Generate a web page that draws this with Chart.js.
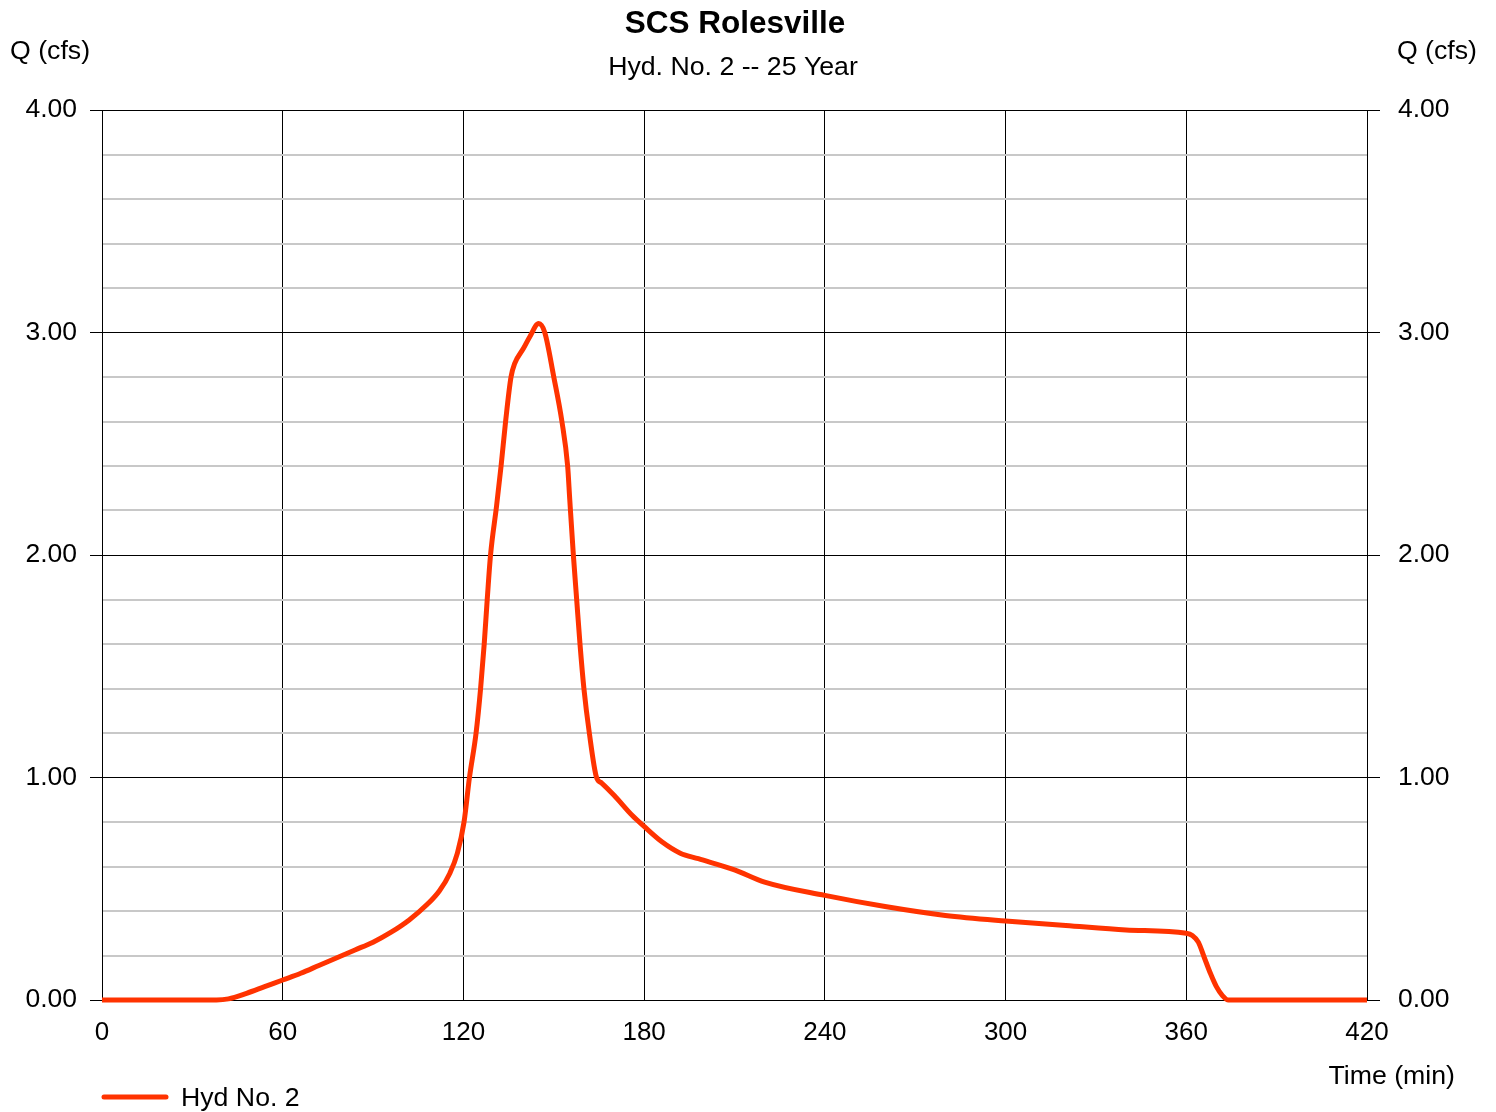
<!DOCTYPE html>
<html>
<head>
<meta charset="utf-8">
<script src="https://cdn.jsdelivr.net/npm/chart.js@4/dist/chart.umd.min.js"></script>
<style>
  html, body { margin: 0; padding: 0; background: #fff; }
  #wrap { width: 1496px; height: 1112px; position: relative; }
</style>
</head>
<body>
<div id="wrap"><canvas id="hydro"></canvas></div>
<script>
// Hydrograph (time in min, flow in cfs)
const timeMin = [0, 38, 42, 48, 54, 60, 66, 72, 78, 84, 90, 96, 102, 108, 112, 115.5,
  118, 120.2, 122, 124.2, 125.7, 126.9, 127.9, 129, 131, 132.5, 134, 135.8, 137, 140, 142,
  145, 147, 150, 152.7, 154.6, 155.3, 156.5, 157.6, 158.7, 160, 161.8, 164.2, 165.9, 170,
  176, 180, 186, 192, 198, 210, 220, 240, 260, 280, 300, 320, 340, 360, 362, 364, 366,
  368, 370, 372, 374, 420];
const flowCfs = [0, 0, 0.005, 0.03, 0.06, 0.09, 0.12, 0.155, 0.19, 0.225, 0.26, 0.305,
  0.36, 0.43, 0.49, 0.57, 0.66, 0.8, 1.0, 1.2, 1.4, 1.6, 1.8, 2.0, 2.22, 2.4, 2.6, 2.8,
  2.86, 2.93, 2.98, 3.04, 3.0, 2.8, 2.6, 2.4, 2.25, 2.0, 1.8, 1.6, 1.4, 1.2, 1.0, 0.975,
  0.92, 0.83, 0.78, 0.71, 0.66, 0.635, 0.585, 0.53, 0.47, 0.42, 0.38, 0.355, 0.335,
  0.315, 0.30, 0.29, 0.26, 0.19, 0.12, 0.06, 0.02, 0, 0];

const xTicks = [0, 60, 120, 180, 240, 300, 360, 420];
const yTicks = [0, 1, 2, 3, 4];

const TITLE = 'SCS Rolesville';
const SUBTITLE = 'Hyd. No. 2 -- 25 Year';
const SERIES = 'Hyd No. 2';
const RED = '#ff3300';
const FONT = '"Liberation Sans", Arial, sans-serif';

const isMajor = (v) => Math.abs(v - Math.round(v)) < 1e-6;

const textPlugin = {
  id: 'textPlugin',
  afterDraw(chart) {
    const ctx = chart.ctx;
    ctx.save();
    ctx.fillStyle = '#000';
    ctx.textBaseline = 'middle';

    ctx.font = `bold 31.5px ${FONT}`;
    ctx.textAlign = 'center';
    ctx.fillText(TITLE, 735, 24);
    ctx.font = `26.7px ${FONT}`;
    ctx.fillText(SUBTITLE, 733, 68);

    ctx.textAlign = 'left';
    ctx.fillText('Q (cfs)', 10, 52);
    ctx.textAlign = 'right';
    ctx.fillText('Q (cfs)', 1477, 52);
    ctx.fillText('Time (min)', 1455, 1077);

    // legend
    ctx.strokeStyle = RED;
    ctx.lineWidth = 5;
    ctx.lineCap = 'round';
    ctx.beginPath();
    ctx.moveTo(104, 1097);
    ctx.lineTo(166, 1097);
    ctx.stroke();
    ctx.textAlign = 'left';
    ctx.fillText(SERIES, 181, 1099);
    ctx.restore();
  }
};

const yGrid = {
  color: (c) => (isMajor(c.tick.value) ? '#000' : '#c8c8c8'),
  lineWidth: (c) => (isMajor(c.tick.value) ? 1 : 2),
  tickColor: (c) => (isMajor(c.tick.value) ? '#000' : 'rgba(0,0,0,0)'),
};

const yLabel = (v) => (isMajor(v) && yTicks.includes(Math.round(v)) ? Number(v).toFixed(2) : '');

new Chart(document.getElementById('hydro'), {
  type: 'line',
  data: {
    datasets: [{
      label: SERIES,
      data: timeMin.map((t, i) => ({ x: t, y: flowCfs[i] })),
      borderColor: RED,
      borderWidth: 5,
      pointRadius: 0,
      fill: false,
      cubicInterpolationMode: 'monotone',
      clip: 6,
    }],
  },
  options: {
    responsive: true,
    maintainAspectRatio: false,
    animation: false,
    layout: { padding: { top: 110, left: 0, right: 0, bottom: 0 } },
    plugins: { legend: { display: false }, title: { display: false }, tooltip: { enabled: false } },
    scales: {
      x: {
        type: 'linear',
        min: 0,
        max: 420,
        afterBuildTicks: (s) => { s.ticks = xTicks.map((v) => ({ value: v })); },
        afterFit: (s) => { s.height = 112; },
        grid: { color: '#000', lineWidth: 1, drawTicks: false },
        border: { color: '#000', width: 1 },
        ticks: { color: '#000', font: { family: FONT, size: 26 }, padding: 17, maxRotation: 0, autoSkip: false },
      },
      y: {
        position: 'left',
        min: 0,
        max: 4,
        ticks: {
          stepSize: 0.2,
          autoSkip: false,
          color: '#000',
          padding: 13,
          font: { family: FONT, size: 26.5 },
          callback: yLabel,
        },
        afterFit: (s) => { s.width = 102; },
        grid: { ...yGrid, tickLength: 12 },
        border: { color: '#000', width: 1 },
      },
      y2: {
        position: 'right',
        min: 0,
        max: 4,
        ticks: {
          stepSize: 0.2,
          autoSkip: false,
          color: '#000',
          padding: 18,
          font: { family: FONT, size: 26.5 },
          callback: yLabel,
        },
        afterFit: (s) => { s.width = 129; },
        grid: { ...yGrid, drawOnChartArea: false, tickLength: 13 },
        border: { color: '#000', width: 1 },
      },
    },
  },
  plugins: [textPlugin],
});
</script>
</body>
</html>
